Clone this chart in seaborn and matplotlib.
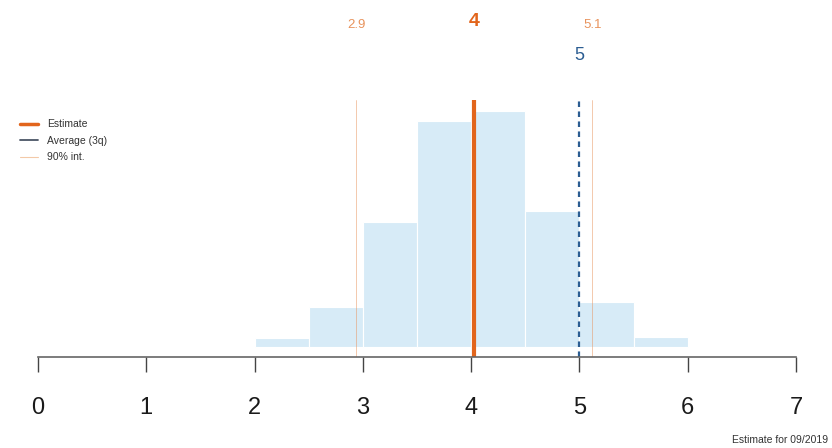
import matplotlib
matplotlib.use("Agg")
import matplotlib.pyplot as plt
import seaborn as sns
import numpy as np

# Data
bin_edges = [2.0, 2.5, 3.0, 3.5, 4.0, 4.5, 5.0, 5.5, 6.0]
bin_shares = [1.1, 4.8, 15.1, 27.3, 28.5, 16.4, 5.4, 1.2]
estimate = 4.03
estimate_label = "4"
average = 5.0
average_label = "5"
int_low, int_high = 2.94, 5.12
int_low_label, int_high_label = "2.9", "5.1"
x_ticks = [0, 1, 2, 3, 4, 5, 6, 7]
legend_labels = ["Estimate", "Average (3q)", "90% int."]
footer = "Estimate for 09/2019"

ORANGE = "#e2651c"
ORANGE_LIGHT = "#e8935c"
BLUE = "#2b5d92"
BAR = "#d7ebf7"

sns.set_style("white")
plt.rcParams["font.family"] = ["Liberation Sans", "DejaVu Sans"]

W, H = 832, 448
fig = plt.figure(figsize=(W / 100, H / 100), dpi=100)
left_px, right_px = 38, 796
bot_px, top_px = 357, 100
ax = fig.add_axes([left_px / W, (H - bot_px) / H, (right_px - left_px) / W, (bot_px - top_px) / H])

mids = [(a + b) / 2 for a, b in zip(bin_edges[:-1], bin_edges[1:])]
sns.histplot(x=mids, weights=bin_shares, bins=bin_edges, color=BAR, edgecolor="white",
             linewidth=0.8, alpha=1.0, ax=ax)

ax.axvline(int_low, color=ORANGE_LIGHT, lw=0.5, alpha=0.7)
ax.axvline(int_high, color=ORANGE_LIGHT, lw=0.5, alpha=0.7)
ax.axvline(estimate, color=ORANGE, lw=3)
ax.axvline(average, color=BLUE, lw=1.6, ls=(0, (2.5, 2)))

ax.set_xlim(0, 7)
ax.set_ylim(-1.21, 29.8)
ax.set_xticks(x_ticks)
ax.set_xticklabels([str(t) for t in x_ticks], fontsize=17, color="#1a1a1a")
ax.set_yticks([])
ax.set_xlabel("")
ax.set_ylabel("")
for s in ["top", "left", "right"]:
    ax.spines[s].set_visible(False)
ax.spines["bottom"].set_color("#666666")
ax.spines["bottom"].set_linewidth(1.2)
ax.spines["bottom"].set_bounds(0, 7)
ax.tick_params(axis="x", bottom=True, direction="out", length=11, width=1, color="#444444", pad=18)

def fy(py):
    return (H - py) / H

def fx(xd):
    return (left_px + xd * (right_px - left_px) / 7) / W

fig.text(fx(int_low), fy(25), int_low_label, color=ORANGE_LIGHT, fontsize=9.5, ha="center", va="center")
fig.text(fx(int_high), fy(25), int_high_label, color=ORANGE_LIGHT, fontsize=9.5, ha="center", va="center")
fig.text(fx(estimate), fy(21), estimate_label, color=ORANGE, fontsize=14, fontweight="bold", ha="center", va="center")
fig.text(fx(average), fy(55), average_label, color=BLUE, fontsize=13, ha="center", va="center")

leg_colors = [ORANGE, "#4a5566", "#f3c9a8"]
leg_widths = [2.5, 1.3, 0.8]
for i, (lab, c, lw) in enumerate(zip(legend_labels, leg_colors, leg_widths)):
    py = 124 + i * 16.5
    fig.add_artist(plt.Line2D([20 / W, 38 / W], [fy(py), fy(py)], color=c, lw=lw))
    fig.text(47 / W, fy(py), lab, fontsize=7.5, color="#333333", va="center", ha="left")

fig.text(828 / W, fy(440), footer, fontsize=7.5, color="#333333", ha="right", va="center")

fig.savefig("out.png", dpi=100)
